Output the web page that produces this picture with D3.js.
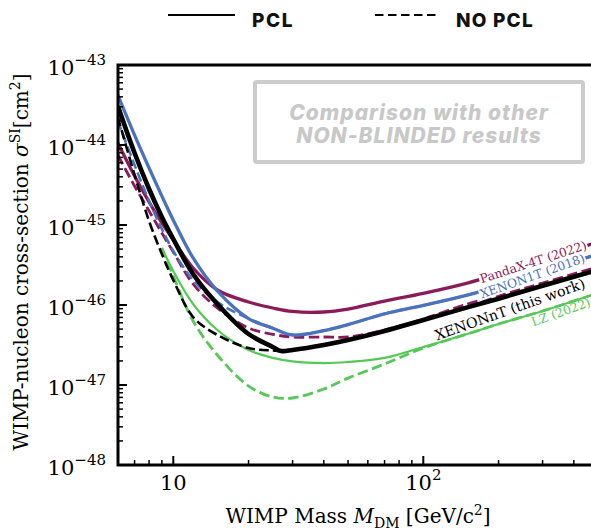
<!DOCTYPE html>
<html><head><meta charset="utf-8">
<script src="https://cdn.jsdelivr.net/npm/d3@7"></script>
<style>body{margin:0;background:#fff}svg{display:block}</style>
</head><body>
<svg id="c" width="591" height="531"></svg>
<script>
// ---------------- data ----------------
const massXnT = [6,7,8,9,10,12,15,20,25,27,30,40,50,70,100,150,200,300,500];
const massStd = [6,7,8,9,10,12,15,20,25,30,40,50,70,100,150,200,300,500];
const massLZ  = [9,10,12,15,20,25,30,40,50,70,100,150,200,300,500];

const xenonntPCL   = [3.07e-44,7.94e-45,2.82e-45,1.26e-45,6.68e-46,2.44e-46,1.03e-46,4.34e-47,2.99e-47,2.66e-47,2.74e-47,3.16e-47,3.65e-47,4.73e-47,6.49e-47,9.33e-47,1.2e-46,1.74e-46,2.74e-46];
const xenonntNoPCL = [2.24e-44,4.22e-45,1.12e-45,4.34e-46,2.05e-46,7.08e-47,4.22e-47,2.9e-47,2.7e-47,2.66e-47,2.74e-47,3.16e-47,3.65e-47,4.73e-47,6.49e-47,9.33e-47,1.2e-46,1.74e-46,2.74e-46];

const xenon1tPCL   = [4.2e-44,1.33e-44,5.16e-45,2.3e-45,1.15e-45,3.87e-46,1.5e-46,6.76e-47,5.13e-47,4.22e-47,4.78e-47,5.69e-47,7.76e-47,9.9e-47,1.33e-46,1.73e-46,2.6e-46,4.34e-46];
const xenon1tNoPCL = [2.0e-44,5.62e-45,2.0e-45,8.9e-46,4.73e-46,2.05e-46,1.09e-46,6.76e-47,5.13e-47,4.22e-47,4.78e-47,5.69e-47,7.76e-47,9.9e-47,1.33e-46,1.73e-46,2.6e-46,4.34e-46];

const pandaxPCL    = [1.06e-44,4.1e-45,1.94e-45,1.06e-45,6.49e-46,2.9e-46,1.54e-46,1.09e-46,9.17e-47,8.3e-47,8.18e-47,8.9e-47,1.12e-46,1.4e-46,1.88e-46,2.44e-46,3.65e-46,6.13e-46];
const pandaxNoPCL  = [7.5e-45,3.07e-45,1.5e-45,7.94e-46,4.6e-46,1.83e-46,9.17e-47,5.16e-47,4.3e-47,3.98e-47,3.98e-47,3.98e-47,4.87e-47,6.68e-47,1.03e-46,1.3e-46,1.88e-46,3.0e-46];

const lzPCL        = [5.16e-46,2.66e-46,1.03e-46,4.87e-47,2.74e-47,2.18e-47,1.97e-47,1.88e-47,1.94e-47,2.18e-47,2.99e-47,4.34e-47,5.79e-47,8.41e-47,1.41e-46];
const lzNoPCL      = [5.16e-46,2.3e-46,6.31e-47,2.37e-47,9.7e-48,7.08e-48,6.88e-48,8.9e-48,1.22e-47,1.83e-47,2.9e-47,4.34e-47,5.79e-47,8.41e-47,1.41e-46];

const seriesNames = ["XENONnT (this work)","XENON1T (2018)","PandaX-4T (2022)","LZ (2022)"];
const legendLabels = ["PCL","NO PCL"];
const yTickExps = [-48,-47,-46,-45,-44,-43];
const xTickLabels = [{v:10, base:"10", sup:""},{v:100, base:"10", sup:"2"}];
const boxLines = ["Comparison with other","NON-BLINDED results"];

// ---------------- layout ----------------
const svg = d3.select("#c");
const L = 118, T = 65, B = 465;
const x = d3.scaleLog().domain([10,100]).range([173.3,423.3]);
const xMin = 6, xMax = 500;
const y = d3.scaleLog().domain([1e-48,1e-43]).range([B,T]);
const R = x(xMax);

const serif = "'DejaVu Serif', serif";
const sans = "Inter, 'Open Sans', sans-serif";

const col = {black:"#000000", blue:"#4a72bd", purple:"#8a1a5a", green:"#55c955"};

svg.append("clipPath").attr("id","clip").append("rect")
  .attr("x",L).attr("y",T).attr("width",R-L).attr("height",B-T);

const line = d3.line().x(d=>x(d[0])).y(d=>y(d[1])).curve(d3.curveCatmullRom.alpha(0.5));
const g = svg.append("g").attr("clip-path","url(#clip)");
function draw(ms, vs, color, w, dashed){
  const pts = ms.map((m,i)=>[m,vs[i]]);
  g.append("path").attr("d",line(pts)).attr("fill","none")
   .attr("stroke",color).attr("stroke-width",w)
   .attr("stroke-dasharray", dashed ? `${3.7*w},${1.6*w}` : null)
   .attr("stroke-linejoin","round");
}
draw(massLZ, lzNoPCL, col.green, 2.8, true);
draw(massLZ, lzPCL, col.green, 2.2, false);
draw(massStd, pandaxNoPCL, col.purple, 2.8, true);
draw(massStd, pandaxPCL, col.purple, 3.3, false);
draw(massStd, xenon1tNoPCL, col.blue, 2.6, true);
draw(massStd, xenon1tPCL, col.blue, 3.3, false);
draw(massXnT, xenonntNoPCL, col.black, 2.6, true);
draw(massXnT, xenonntPCL, col.black, 4.6, false);

// ---------------- inline labels ----------------
function interp(ms, vs, m){
  const lm = Math.log10(m);
  for(let i=0;i<ms.length-1;i++){
    const a=Math.log10(ms[i]), b=Math.log10(ms[i+1]);
    if(lm>=a && lm<=b){
      const t=(lm-a)/(b-a);
      return Math.pow(10, Math.log10(vs[i])*(1-t)+Math.log10(vs[i+1])*t);
    }
  }
  return vs[vs.length-1];
}
const labelDefs = [
  {name:seriesNames[2], ms:massStd, vs:pandaxPCL, m:275, dy:-1, ang:-18, size:12.3, color:col.purple, bg:true},
  {name:seriesNames[1], ms:massStd, vs:xenon1tPCL, m:273, dy:1, ang:-19.5, size:12.3, color:col.blue, bg:true},
  {name:seriesNames[0], ms:massXnT, vs:xenonntPCL, m:222, dy:14, ang:-19.5, size:14.2, color:col.black, bg:false},
  {name:seriesNames[3], ms:massLZ, vs:lzPCL, m:355, dy:7, ang:-19.5, size:12.3, color:col.green, bg:false},
];
labelDefs.forEach(d=>{
  const cx = x(d.m), cy = y(interp(d.ms,d.vs,d.m)) + d.dy;
  const lg = svg.append("g").attr("transform",`translate(${cx},${cy}) rotate(${d.ang})`);
  const t = lg.append("text").attr("text-anchor","middle").attr("dy","0.35em")
    .attr("font-family",serif).attr("font-size",d.size).attr("fill",d.color).text(d.name);
  if(d.bg){
    const bb = t.node().getBBox();
    lg.insert("rect","text").attr("x",bb.x-1).attr("y",bb.y+1).attr("width",bb.width+2).attr("height",bb.height-2).attr("fill","#fff");
  }
});

// ---------------- axes ----------------
const ax = svg.append("g");
for(let e=-48;e<-43;e++){
  for(let k=1;k<10;k++){
    const v = k*Math.pow(10,e);
    const yy = y(v);
    ax.append("line").attr("x1",L).attr("x2",L+(k===1?9:5)).attr("y1",yy).attr("y2",yy)
      .attr("stroke","#000").attr("stroke-width",k===1?2:1.5);
  }
}
const xt = [];
for(let d=1;d<=3;d++) for(let k=1;k<10;k++){ const v=k*Math.pow(10,d-1); if(v>=xMin && v<=xMax) xt.push(v); }
xt.forEach(v=>{
  const major = Math.abs(Math.log10(v)-Math.round(Math.log10(v)))<1e-9;
  ax.append("line").attr("x1",x(v)).attr("x2",x(v)).attr("y1",B).attr("y2",B-(major?9:5))
    .attr("stroke","#000").attr("stroke-width",major?2:1.5);
});
ax.append("path").attr("d",`M${R},${T}H${L}V${B}H${R}`).attr("fill","none")
  .attr("stroke","#000").attr("stroke-width",3).attr("stroke-linejoin","miter");

yTickExps.forEach(e=>{
  const yy = y(Math.pow(10,e));
  const t = ax.append("text").attr("x",106).attr("y",yy+10).attr("text-anchor","end")
    .attr("font-family",serif).attr("font-size",21).attr("fill","#000");
  t.append("tspan").text("10");
  t.append("tspan").attr("dy",-10).attr("font-size",15).text("\u2212"+Math.abs(e));
});
xTickLabels.forEach(d=>{
  const t = ax.append("text").attr("x",x(d.v)).attr("y",490).attr("text-anchor","middle")
    .attr("font-family",serif).attr("font-size",21).attr("fill","#000");
  t.append("tspan").text(d.base);
  if(d.sup) t.append("tspan").attr("dy",-10).attr("font-size",15).text(d.sup);
});
const xl = svg.append("text").attr("x",358).attr("y",523).attr("text-anchor","middle")
  .attr("font-family",serif).attr("font-size",20).attr("fill","#000");
xl.append("tspan").text("WIMP Mass ");
xl.append("tspan").attr("font-style","italic").text("M");
xl.append("tspan").attr("dy",5).attr("font-size",14).text("DM");
xl.append("tspan").attr("dy",-5).text(" [GeV/c");
xl.append("tspan").attr("dy",-8).attr("font-size",14).text("2");
xl.append("tspan").attr("dy",8).text("]");

const yl = svg.append("text").attr("transform","translate(28,262) rotate(-90)").attr("text-anchor","middle")
  .attr("font-family",serif).attr("font-size",20).attr("fill","#000");
yl.append("tspan").text("WIMP-nucleon cross-section ");
yl.append("tspan").attr("font-style","italic").text("\u03c3");
yl.append("tspan").attr("dy",-8).attr("font-size",14).text("SI");
yl.append("tspan").attr("dy",8).text("[cm");
yl.append("tspan").attr("dy",-8).attr("font-size",14).text("2");
yl.append("tspan").attr("dy",8).text("]");

// ---------------- legend ----------------
const lgd = svg.append("g");
lgd.append("line").attr("x1",168).attr("x2",235).attr("y1",15).attr("y2",15).attr("stroke","#000").attr("stroke-width",2.2);
lgd.append("text").attr("x",252).attr("y",27).attr("font-family",sans).attr("font-weight",800)
  .attr("font-size",19).attr("letter-spacing",1.6).attr("fill","#111").text(legendLabels[0]);
lgd.append("line").attr("x1",375).attr("x2",438).attr("y1",15).attr("y2",15).attr("stroke","#000").attr("stroke-width",2.2)
  .attr("stroke-dasharray","8.5,4.5");
lgd.append("text").attr("x",456).attr("y",27).attr("font-family",sans).attr("font-weight",800)
  .attr("font-size",19).attr("letter-spacing",1.2).attr("fill","#111").text(legendLabels[1]);

// ---------------- note box ----------------
svg.append("rect").attr("x",255).attr("y",82).attr("width",328).attr("height",80).attr("rx",2)
  .attr("fill","#fff").attr("stroke","#cccccc").attr("stroke-width",4);
boxLines.forEach((s,i)=>{
  svg.append("text").attr("x",419).attr("y",120+i*23).attr("text-anchor","middle")
    .attr("font-family",sans).attr("font-weight",800).attr("font-style","italic")
    .attr("font-size",21).attr("letter-spacing",1.0).attr("fill","#c8c8c8").text(s);
});
</script>
</body></html>
